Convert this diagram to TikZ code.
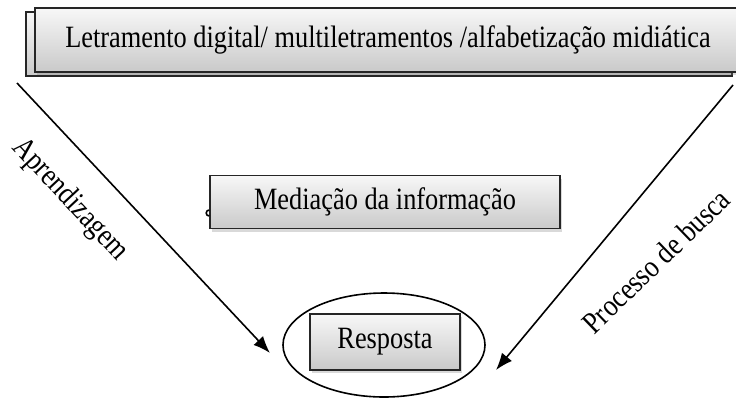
\documentclass[tikz,border=0pt]{standalone}
\usepackage{fontspec}
\setmainfont{Liberation Serif}[FakeStretch=0.85]
\usetikzlibrary{shapes.geometric,arrows.meta,shadows}

\begin{document}
\begin{tikzpicture}[
    x=1pt, y=-1pt,
    every node/.style={font=\fontsize{31}{36}\selectfont},
    caixa/.style={rectangle, draw=black!85, line width=1.6pt, top color=gray!6, bottom color=gray!42, text centered},
    sombra/.style={drop shadow={shadow xshift=2pt, shadow yshift=-3pt, opacity=0.3}},
    copia/.style={copy shadow={shadow xshift=-9pt, shadow yshift=-4pt, top color=gray!6, bottom color=gray!42, draw=black!85, line width=1.6pt}},
    seta/.style={line width=1.6pt, -{Latex[length=17pt, width=13pt]}},
    rotulo/.style={inner sep=0pt}
]
\useasboundingbox (0,0) rectangle (736,400);

\node[caixa, copia, sombra, minimum width=706pt, minimum height=64pt] (letr) at (388,40) {Letramento digital/ multiletramentos /alfabetização midiática};
\node[caixa, sombra, minimum width=350pt, minimum height=53pt] (medi) at (385,202) {Mediação da informação};
\draw[line width=1.6pt] ([yshift=-8pt]medi.west) arc (90:270:3pt);
\node[draw, line width=1.6pt, ellipse, minimum width=202pt, minimum height=104pt] (elipse) at (384,345) {};
\node[caixa, sombra, minimum width=150pt, minimum height=56pt] (resp) at (385,342) {Resposta};

\coordinate (aini) at (17,83);
\coordinate (afim) at (270,353);
\coordinate (bini) at (733,85);
\coordinate (bfim) at (496,370);
\draw[seta] (aini) -- (afim);
\draw[seta] (bini) -- (bfim);

\node[rotulo, rotate=-47] (aprend) at (70,200) {Aprendizagem};
\node[rotulo, rotate=44] (busca) at (656,261) {Processo de busca};
\end{tikzpicture}
\end{document}
